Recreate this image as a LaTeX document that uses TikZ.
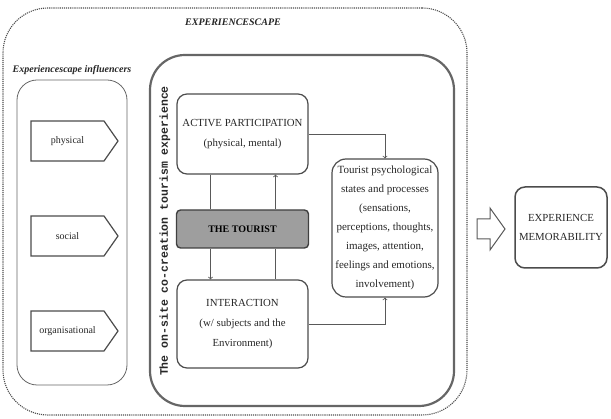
\documentclass[tikz,border=0pt]{standalone}
\usepackage{fontspec}
\setmainfont{Liberation Serif}
\newfontfamily\monolabel{Liberation Mono}
\usetikzlibrary{shapes.symbols}

\begin{document}
\begin{tikzpicture}[x=1pt, y=-1pt, node distance=95pt, text=black!85, font=\fontsize{10.8}{14}\selectfont]

% Define the node styles
\tikzstyle{scape}=[draw=black!70, densely dotted, line width=1.1pt, rounded corners=45pt, minimum width=464pt, minimum height=407pt]
\tikzstyle{onsite}=[draw=black!60, line width=2.2pt, rounded corners=35pt, minimum width=304pt, minimum height=351pt]
\tikzstyle{influencerzone}=[draw=black!60, line width=0.8pt, rounded corners=20pt, minimum width=110pt, minimum height=305pt]
\tikzstyle{influencer}=[signal, signal to=east, signal pointer angle=110, draw=black!70, line width=1.2pt, minimum width=87pt, minimum height=40pt, inner sep=0pt, font=\fontsize{10}{12}\selectfont]
\tikzstyle{stage}=[draw=black!70, line width=1.2pt, rounded corners=10pt, minimum width=131pt, inner sep=2pt, align=center, font=\fontsize{10.8}{20}\selectfont]
\tikzstyle{tourist}=[draw=black!75, fill=black!38, line width=1.4pt, rounded corners=4pt, minimum width=132pt, minimum height=38pt, font=\bfseries\fontsize{10}{12}\selectfont, text=black]
\tikzstyle{psych}=[draw=black!70, line width=1.2pt, rounded corners=14pt, minimum width=106pt, minimum height=138pt, inner sep=0pt, align=center, font=\fontsize{11}{19}\selectfont]
\tikzstyle{title}=[font=\bfseries\itshape\fontsize{10}{12}\selectfont]
\tikzstyle{link}=[draw=black!65, line width=0.8pt]

\useasboundingbox (0,0) rectangle (611,419);

% Define the nodes
\node[scape] (scape) at (235,211.5) {};
\node[title] (scapetitle) at (233,22) {EXPERIENCESCAPE};
\node[onsite] (onsite) at (302,230.5) {};
\node[rotate=90, font=\monolabel\bfseries\fontsize{11.5}{13}\selectfont] (onsitelabel) at (165,231) {The on-site co-creation tourism experience};

\node[influencerzone] (zone) at (72,232.5) {};
\node[title] (zonetitle) at (72,70) {Experiencescape influencers};
\node[influencer] (physical) at (67.5,141) {physical};
\node[influencer, below of=physical] (social) {social};
\node[influencer, below of=social] (organisational) {organisational};

\node[stage, minimum height=80pt] (active) at (242.5,134) {ACTIVE PARTICIPATION\\(physical, mental)};
\node[tourist, below of=active] (thetourist) {THE TOURIST};
\node[stage, minimum height=88pt, below of=thetourist] (interaction) {INTERACTION\\(w/ subjects and the\\Environment)};
\node[psych] (states) at (385,228) {Tourist psychological\\states and processes\\(sensations,\\perceptions, thoughts,\\images, attention,\\feelings and emotions,\\involvement)};

\node[stage, minimum width=92pt, minimum height=81pt, inner sep=0pt, line width=1.5pt, font=\fontsize{10.8}{19}\selectfont] (memorability) at (561,227.5) {EXPERIENCE\\MEMORABILITY};

% Hollow arrow towards memorability
\draw[draw=black!65, line width=1pt, line join=miter] (477,219) -- (490,219) -- (490,208) -- (505,229) -- (490,250) -- (490,239) -- (477,239) -- cycle;

% Add the edges
\draw[->, link] (active.east) -| (states.north);
\draw[->, link] (interaction.east) -| (states.south);
\draw[link] ([xshift=-32pt]active.south) -- ([xshift=-32pt]thetourist.north);
\draw[->, link] ([xshift=-32pt]thetourist.south) -- ([xshift=-32pt]interaction.north);
\draw[->, link] ([xshift=33pt]thetourist.north) -- ([xshift=33pt]active.south);
\draw[link] ([xshift=33pt]interaction.north) -- ([xshift=33pt]thetourist.south);

\end{tikzpicture}
\end{document}
